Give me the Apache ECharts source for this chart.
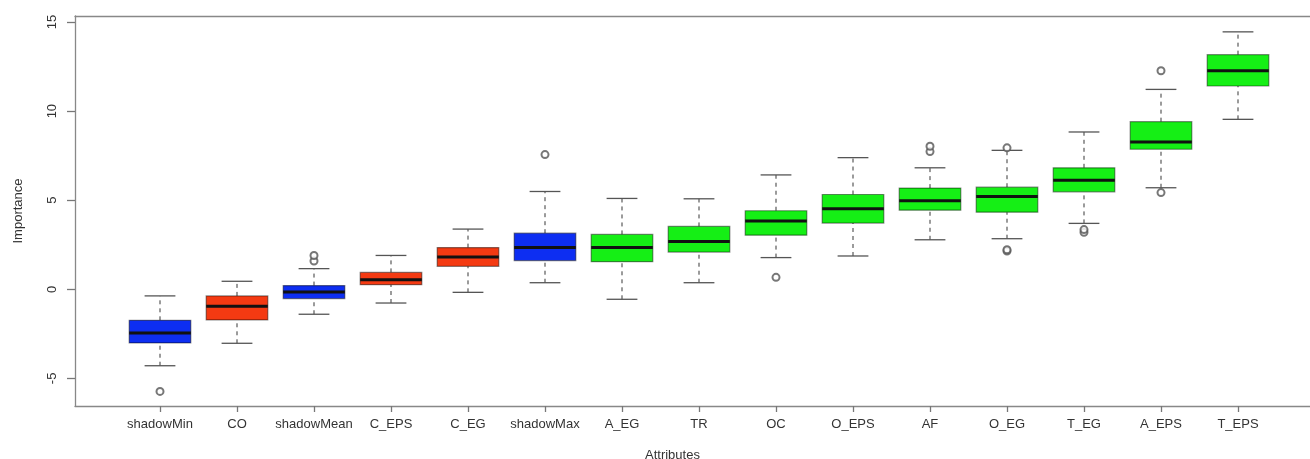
<!DOCTYPE html>
<html>
<head>
<meta charset="utf-8">
<script src="https://cdn.jsdelivr.net/npm/echarts@6/dist/echarts.min.js"></script>
<style>
html,body{margin:0;padding:0;background:#fff;}
#chart{width:1310px;height:459px;}
</style>
</head>
<body>
<div id="chart"></div>
<script>
const categories = ['shadowMin','CO','shadowMean','C_EPS','C_EG','shadowMax','A_EG','TR','OC','O_EPS','AF','O_EG','T_EG','A_EPS','T_EPS'];
const decision = ['Shadow','Rejected','Shadow','Rejected','Rejected','Shadow','Confirmed','Confirmed','Confirmed','Confirmed','Confirmed','Confirmed','Confirmed','Confirmed','Confirmed'];
const whiskerLow  = [-4.29,-3.03,-1.40,-0.77,-0.17,0.37,-0.56,0.37,1.78,1.87,2.78,2.84,3.70,5.70,9.54];
const q1          = [-3.01,-1.72,-0.52,0.26,1.29,1.61,1.55,2.09,3.04,3.72,4.44,4.33,5.47,7.86,11.41];
const median      = [-2.45,-0.95,-0.15,0.54,1.81,2.34,2.34,2.69,3.83,4.52,4.97,5.21,6.12,8.27,12.27];
const q3          = [-1.74,-0.37,0.21,0.95,2.34,3.15,3.08,3.53,4.41,5.32,5.68,5.73,6.82,9.41,13.17];
const whiskerHigh = [-0.37,0.45,1.16,1.90,3.38,5.49,5.10,5.08,6.42,7.39,6.82,7.80,8.83,11.22,14.45];
const outlierCats = ['shadowMin','shadowMean','shadowMean','shadowMax','OC','AF','AF','O_EG','O_EG','O_EG','T_EG','T_EG','A_EPS','A_EPS'];
const outlierVals = [-5.73,1.59,1.90,7.56,0.67,7.73,8.03,7.94,2.15,2.22,3.20,3.35,12.27,5.43];
const yTicks = [-5,0,5,10,15];
const yMin = -6.55, yMax = 15.34;

const decisionColor = {Shadow:'#0d2ef2', Rejected:'#f43a12', Confirmed:'#15ef15'};
const FONT = 'Liberation Sans, Arial, sans-serif';

const boxData = categories.map((c,i)=>[i, whiskerLow[i], q1[i], median[i], q3[i], whiskerHigh[i]]);
const outlierData = outlierCats.map((c,i)=>[c, outlierVals[i]]);

const chart = echarts.init(document.getElementById('chart'), null, {renderer:'canvas'});
chart.setOption({
  animation:false,
  backgroundColor:'#fff',
  title:{text:'Attributes', left:640, top:444, textStyle:{fontFamily:FONT, fontSize:13, fontWeight:'normal', color:'#333'}},
  grid:[
    {left:75, right:0, top:16, bottom:53},
    {left:121.5, width:1155, top:16, bottom:53}
  ],
  xAxis:[
    {gridIndex:0, type:'value', min:0, max:1, position:'bottom',
     axisLine:{show:true, onZero:false, lineStyle:{color:'#888', width:1.3}},
     axisTick:{show:false}, axisLabel:{show:false}, splitLine:{show:false}},
    {gridIndex:0, type:'value', min:0, max:1, position:'top',
     axisLine:{show:true, onZero:false, lineStyle:{color:'#888', width:1.3}},
     axisTick:{show:false}, axisLabel:{show:false}, splitLine:{show:false}},
    {gridIndex:1, type:'category', data:categories, position:'bottom',
     axisLine:{show:false, onZero:false},
     axisTick:{show:true, alignWithLabel:true, interval:0, length:6, lineStyle:{color:'#777', width:1.3}},
     axisLabel:{interval:0, fontFamily:FONT, fontSize:13, color:'#333', margin:12},
     splitLine:{show:false}}
  ],
  yAxis:[
    {gridIndex:0, type:'value', min:yMin, max:yMax,
     axisLine:{show:true, onZero:false, lineStyle:{color:'#888', width:1.3}},
     axisTick:{show:true, length:8, customValues:yTicks, lineStyle:{color:'#777', width:1.3}},
     axisLabel:{customValues:yTicks, rotate:90, margin:16, fontFamily:FONT, fontSize:13, color:'#333'},
     splitLine:{show:false},
     name:'Importance', nameLocation:'middle', nameGap:50,
     nameTextStyle:{fontFamily:FONT, fontSize:13, color:'#333'}},
    {gridIndex:1, type:'value', min:yMin, max:yMax, show:false}
  ],
  series:[
    {
      type:'custom', xAxisIndex:2, yAxisIndex:1,
      data:boxData,
      encode:{x:0, y:[1,2,3,4,5]},
      renderItem:function(params, api){
        const x = api.value(0);
        const band = api.size([1,0])[0];
        const half = band*0.4, capHalf = band*0.2;
        const pL = api.coord([x, api.value(1)]);
        const p1 = api.coord([x, api.value(2)]);
        const pM = api.coord([x, api.value(3)]);
        const p3 = api.coord([x, api.value(4)]);
        const pH = api.coord([x, api.value(5)]);
        const cx = pM[0];
        const fill = decisionColor[decision[params.dataIndex]];
        const dash = {stroke:'#666', lineWidth:1.3, lineDash:[4,4]};
        const cap = {stroke:'#555', lineWidth:1.3};
        return {type:'group', children:[
          {type:'line', shape:{x1:cx, y1:pL[1], x2:cx, y2:p1[1]}, style:dash},
          {type:'line', shape:{x1:cx, y1:p3[1], x2:cx, y2:pH[1]}, style:dash},
          {type:'line', shape:{x1:cx-capHalf, y1:pL[1], x2:cx+capHalf, y2:pL[1]}, style:cap},
          {type:'line', shape:{x1:cx-capHalf, y1:pH[1], x2:cx+capHalf, y2:pH[1]}, style:cap},
          {type:'rect', shape:{x:cx-half, y:p3[1], width:2*half, height:p1[1]-p3[1]},
           style:{fill:fill, stroke:'rgba(0,0,0,0.45)', lineWidth:1.2}},
          {type:'line', shape:{x1:cx-half, y1:pM[1], x2:cx+half, y2:pM[1]}, style:{stroke:'#111', lineWidth:3}}
        ]};
      }
    },
    {
      type:'scatter', xAxisIndex:2, yAxisIndex:1,
      data:outlierData,
      symbol:'emptyCircle', symbolSize:7,
      itemStyle:{color:'#555', borderColor:'#555', borderWidth:1.3}
    }
  ]
});
</script>
</body>
</html>
